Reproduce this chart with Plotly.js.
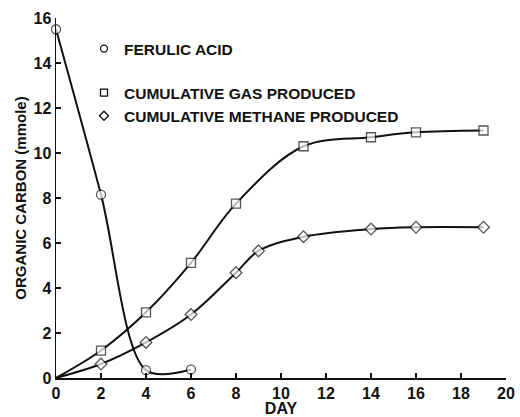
<!DOCTYPE html>
<html>
<head>
<meta charset="utf-8">
<script src="https://cdn.plot.ly/plotly-3.0.1.min.js"></script>
<style>html,body{margin:0;padding:0;background:#fff}#chart{width:520px;height:417px}</style>
</head>
<body>
<div id="chart"></div>
<script>
// Data
var ferulicDay = [0, 2, 4, 6];
var ferulicC = [15.5, 8.15, 0.35, 0.38];

var gasDay = [0, 2, 4, 6, 8, 11, 14, 16, 19];
var gasC = [0, 1.22, 2.92, 5.12, 7.75, 10.3, 10.7, 10.92, 11.0];

var methDay = [0, 2, 4, 6, 8, 9, 11, 14, 16, 19];
var methC = [0, 0.62, 1.58, 2.82, 4.68, 5.65, 6.28, 6.62, 6.7, 6.7];

var seriesNames = ['FERULIC ACID', 'CUMULATIVE GAS PRODUCED', 'CUMULATIVE METHANE PRODUCED'];
var xTicks = [0, 2, 4, 6, 8, 10, 12, 14, 16, 18, 20];
var yTicks = [0, 2, 4, 6, 8, 10, 12, 14, 16];

var FONT = 'Liberation Sans, Arial, sans-serif';
function lineStyle(sm) { return {color: '#111', width: 2, shape: 'spline', smoothing: sm}; }
function mk(symbol, size, n, hideFirst) {
  var s = [];
  for (var i = 0; i < n; i++) s.push(hideFirst && i === 0 ? 0 : size);
  return {symbol: symbol, size: s, color: '#fff', line: {color: '#111', width: 1.3}};
}

var traces = [
  {x: ferulicDay, y: ferulicC, mode: 'lines+markers', line: lineStyle(0.9),
   marker: mk('circle', 9, ferulicDay.length, false), showlegend: false, cliponaxis: false},
  {x: gasDay, y: gasC, mode: 'lines+markers', line: lineStyle(1),
   marker: mk('square', 9, gasDay.length, true), showlegend: false, cliponaxis: false},
  {x: methDay, y: methC, mode: 'lines+markers', line: lineStyle(1),
   marker: mk('diamond', 9, methDay.length, true), showlegend: false, cliponaxis: false},
  // legend entries
  {x: [null], y: [null], mode: 'markers', name: seriesNames[0], legend: 'legend',
   marker: {symbol: 'circle', size: 7, color: '#fff', line: {color: '#111', width: 1.3}}},
  {x: [null], y: [null], mode: 'markers', name: seriesNames[1], legend: 'legend2',
   marker: {symbol: 'square', size: 7, color: '#fff', line: {color: '#111', width: 1.3}}},
  {x: [null], y: [null], mode: 'markers', name: seriesNames[2], legend: 'legend2',
   marker: {symbol: 'diamond', size: 7, color: '#fff', line: {color: '#111', width: 1.3}}}
];

var tickFont = {family: FONT, size: 16, color: '#111', weight: 'bold'};
var legendFont = {family: FONT, size: 15.5, color: '#111', weight: 'bold'};

var layout = {
  width: 520, height: 417,
  margin: {l: 56, r: 14, t: 18, b: 39},
  paper_bgcolor: '#fff', plot_bgcolor: '#fff',
  showlegend: true,
  font: {family: FONT, color: '#111'},
  xaxis: {
    range: [0, 20], tickvals: xTicks, ticktext: xTicks.map(String),
    ticks: 'inside', ticklen: 5, tickwidth: 1.3, tickcolor: '#111',
    showline: true, linecolor: '#111', linewidth: 1.5, showgrid: false, zeroline: false,
    tickfont: tickFont,
    title: {text: 'DAY', font: tickFont, standoff: 4}
  },
  yaxis: {
    range: [0, 16], tickvals: yTicks, ticktext: yTicks.map(String),
    ticks: 'inside', ticklen: 5, tickwidth: 1.3, tickcolor: '#111',
    showline: true, linecolor: '#111', linewidth: 1.5, showgrid: false, zeroline: false,
    tickfont: tickFont,
    title: {text: 'ORGANIC CARBON (mmole)', font: {family: FONT, size: 15, color: '#111', weight: 'bold'}, standoff: 3}
  },
  legend: {font: legendFont, bgcolor: 'rgba(0,0,0,0)', borderwidth: 0, tracegroupgap: 0},
  legend2: {font: legendFont, bgcolor: 'rgba(0,0,0,0)', borderwidth: 0, tracegroupgap: 0}
};
// Position legends in paper fractions
var plotW = 520 - 56 - 14, plotH = 417 - 18 - 39;
layout.legend.x = (93 - 56) / plotW - 0.02;
layout.legend.y = 1 - (32 - 18) / plotH;
layout.legend.xanchor = 'left'; layout.legend.yanchor = 'top';
layout.legend2.x = layout.legend.x;
layout.legend2.y = 1 - (76 - 18) / plotH;
layout.legend2.xanchor = 'left'; layout.legend2.yanchor = 'top';

Plotly.newPlot('chart', traces, layout, {displayModeBar: false, staticPlot: true});
</script>
</body>
</html>
